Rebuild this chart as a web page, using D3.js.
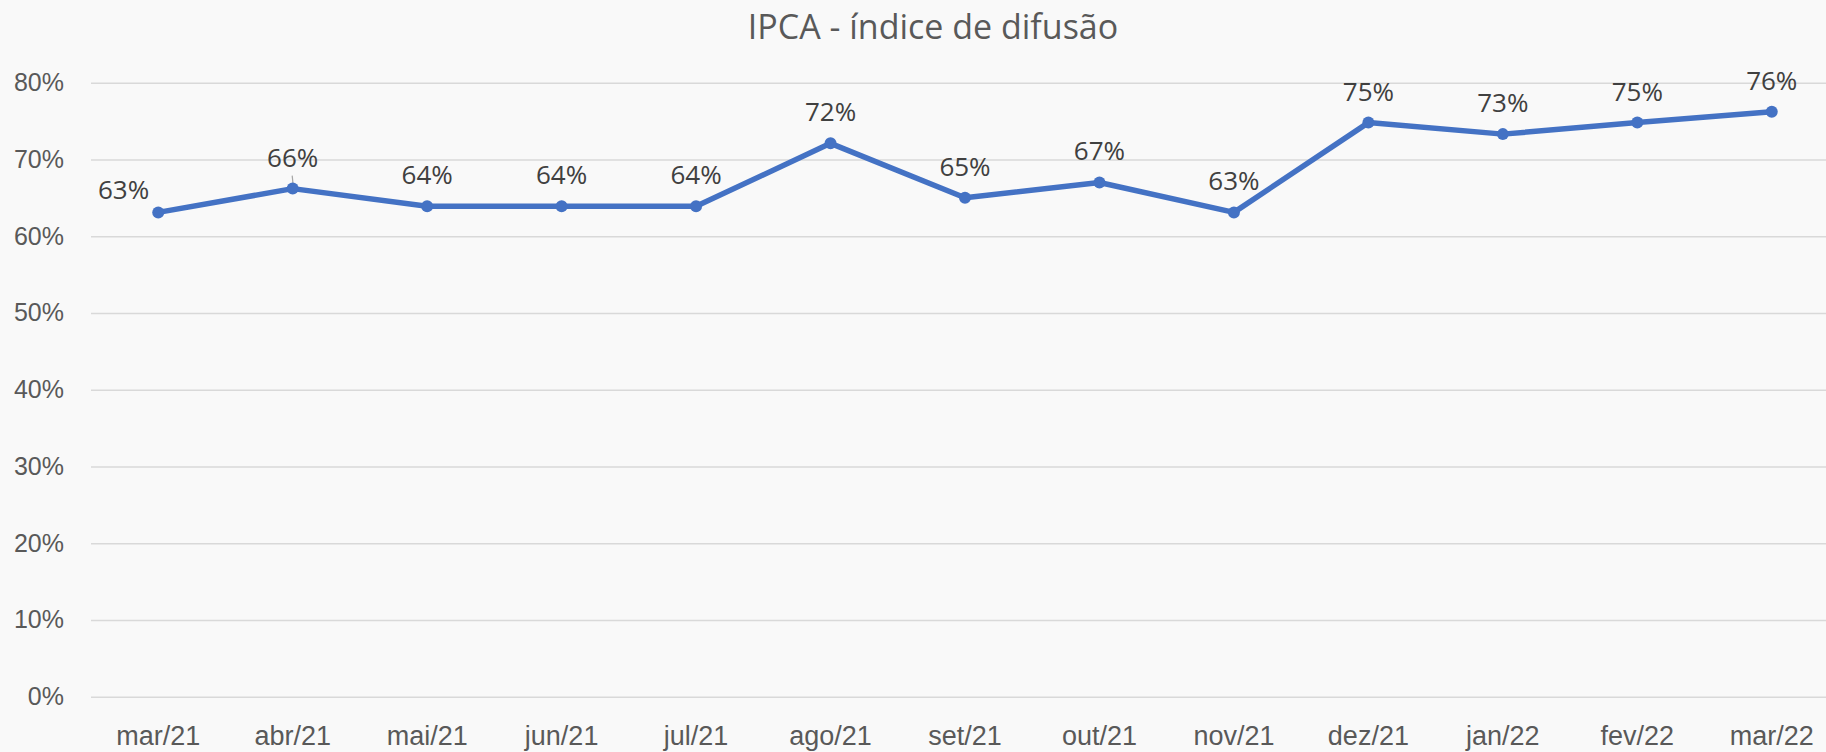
<!DOCTYPE html>
<html>
<head>
<meta charset="utf-8">
<script src="https://cdn.jsdelivr.net/npm/d3@7"></script>
<style>
  html, body { margin: 0; padding: 0; background: #f9f9f9; }
  svg { display: block; font-family: "Open Sans", sans-serif; }
</style>
</head>
<body>
<svg id="chart" width="1826" height="752"></svg>
<script>
// data
var categories = ["mar/21", "abr/21", "mai/21", "jun/21", "jul/21", "ago/21", "set/21",
                  "out/21", "nov/21", "dez/21", "jan/22", "fev/22", "mar/22"];
var values = [0.631, 0.662, 0.639, 0.639, 0.639, 0.721, 0.650, 0.670, 0.631, 0.748, 0.733, 0.748, 0.762];
var yTicks = [0, 0.1, 0.2, 0.3, 0.4, 0.5, 0.6, 0.7, 0.8];
var title = "IPCA - índice de difusão";

var svg = d3.select("#chart"),
    width = +svg.attr("width"),
    height = +svg.attr("height");

var plot = { left: 91, right: 1839, top: 82.7, bottom: 696.7 };

var x = d3.scaleBand()
    .domain(categories)
    .range([plot.left, plot.right]);

var y = d3.scaleLinear()
    .domain([0, 0.8])
    .range([plot.bottom, plot.top]);

var pct = d3.format(".0%");
var cx = function(d) { return x(d) + x.bandwidth() / 2; };

svg.append("rect")
    .attr("width", width)
    .attr("height", height)
    .attr("fill", "#f9f9f9");

// title
svg.append("text")
    .attr("x", 933)
    .attr("y", 39)
    .attr("text-anchor", "middle")
    .attr("font-size", 34)
    .attr("fill", "#595959")
    .text(title);

// y axis + gridlines
var yAxis = svg.append("g")
    .attr("transform", "translate(" + plot.left + ",0)")
    .call(d3.axisLeft(y)
        .tickValues(yTicks)
        .tickFormat(pct)
        .tickSize(-(plot.right - plot.left))
        .tickPadding(27));
yAxis.select(".domain").remove();
yAxis.selectAll(".tick line")
    .attr("stroke", "#d9d9d9")
    .attr("stroke-width", 1.4);
yAxis.selectAll(".tick text")
    .attr("font-size", 25)
    .attr("fill", "#595959");

// x axis labels
var xAxis = svg.append("g")
    .attr("transform", "translate(0," + plot.bottom + ")")
    .call(d3.axisBottom(x).tickSize(0).tickPadding(29));
xAxis.select(".domain").remove();
xAxis.selectAll(".tick text")
    .attr("font-size", 27)
    .attr("fill", "#595959");

// line
var line = d3.line()
    .x(function(d, i) { return cx(categories[i]); })
    .y(function(d) { return y(d); });

svg.append("path")
    .datum(values)
    .attr("d", line)
    .attr("fill", "none")
    .attr("stroke", "#4472c4")
    .attr("stroke-width", 5.5)
    .attr("stroke-linejoin", "round");

// small leader line on abr/21 label
svg.append("line")
    .attr("x1", cx(categories[1]) - 0.5)
    .attr("x2", cx(categories[1]) + 0.5)
    .attr("y1", y(values[1]) - 13)
    .attr("y2", y(values[1]) - 3)
    .attr("stroke", "#a6a6a6")
    .attr("stroke-width", 1.2);

svg.append("g")
    .selectAll("circle")
    .data(values)
    .enter()
    .append("circle")
    .attr("cx", function(d, i) { return cx(categories[i]); })
    .attr("cy", function(d) { return y(d); })
    .attr("r", 6)
    .attr("fill", "#4472c4");

// data labels (first one sits left of the point)
svg.append("g")
    .selectAll("text")
    .data(values)
    .enter()
    .append("text")
    .attr("x", function(d, i) { return i == 0 ? cx(categories[i]) - 9 : cx(categories[i]); })
    .attr("y", function(d, i) { return i == 0 ? y(d) - 13 : y(d) - 22; })
    .attr("text-anchor", function(d, i) { return i == 0 ? "end" : "middle"; })
    .attr("font-size", 26)
    .attr("fill", "#404040")
    .text(function(d) { return pct(d); });
</script>
</body>
</html>
